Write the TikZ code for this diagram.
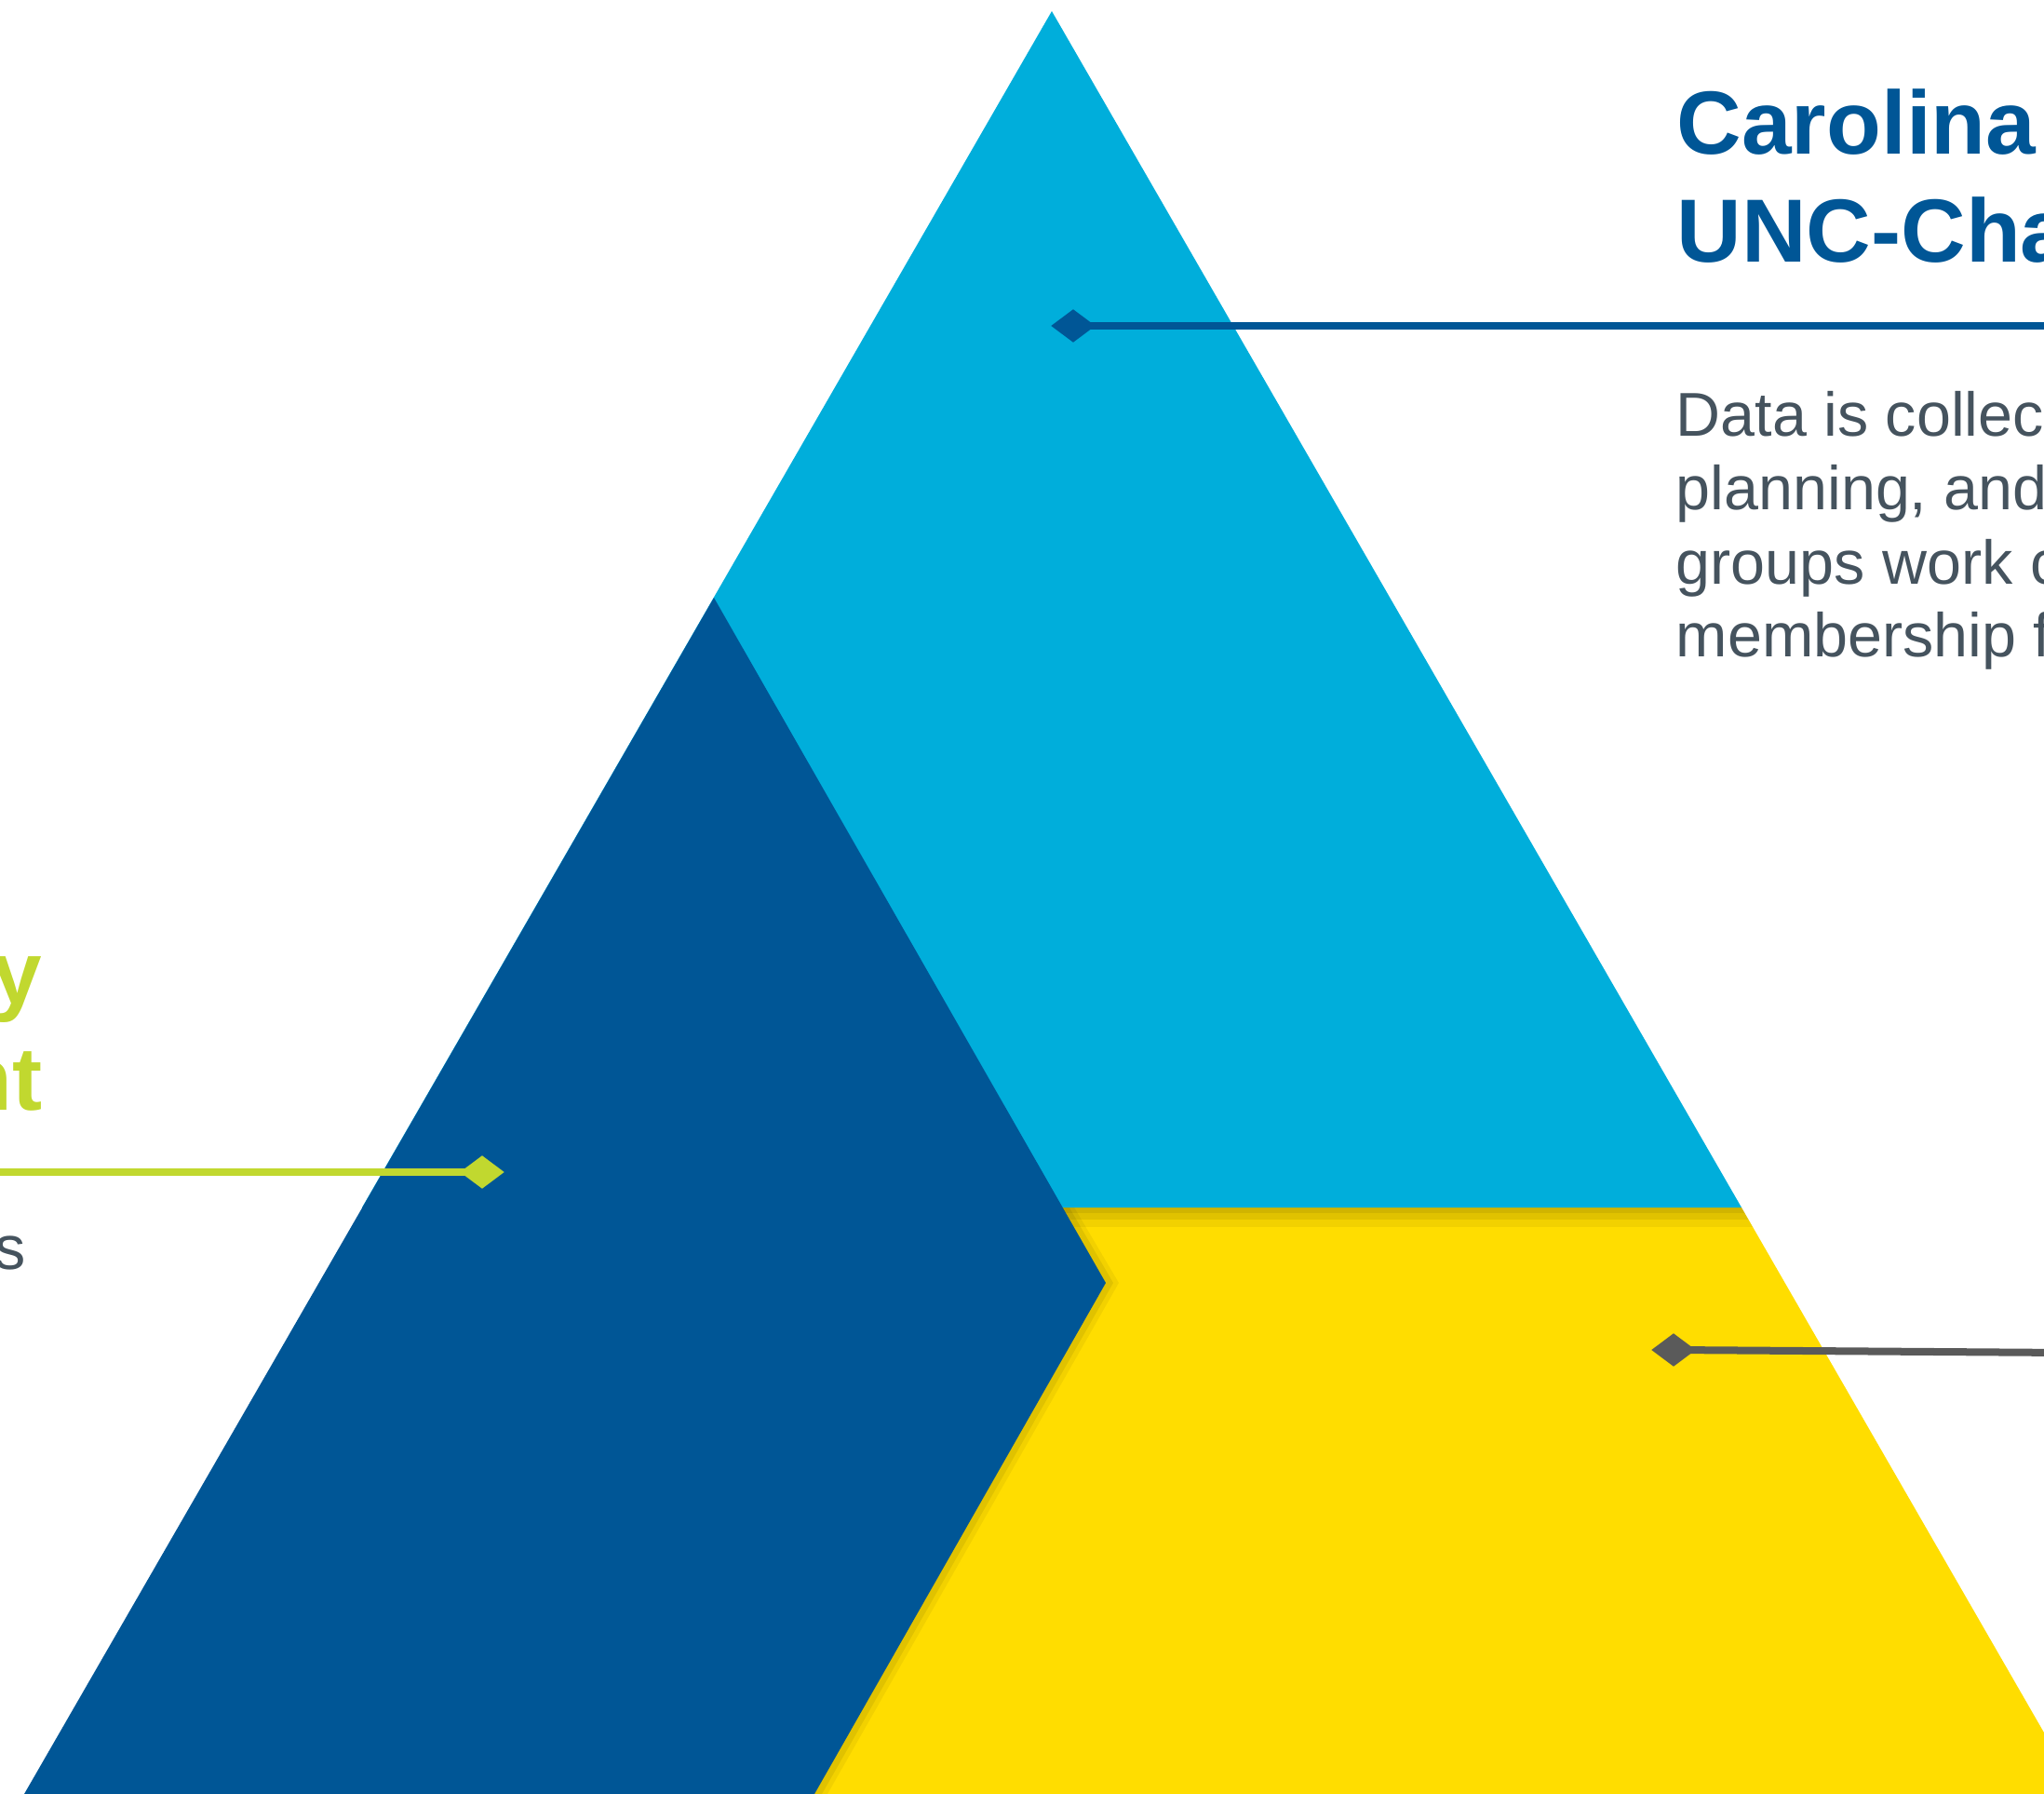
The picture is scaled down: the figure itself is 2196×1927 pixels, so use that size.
\documentclass[tikz,border=0pt]{standalone}
\usepackage{fontspec}
\setmainfont{Liberation Sans}
\usetikzlibrary{shapes.geometric}
\definecolor{dblue}{RGB}{0,86,150}
\definecolor{lblue}{RGB}{0,174,219}
\definecolor{yel}{RGB}{255,221,0}
\definecolor{grn}{RGB}{193,216,47}
\definecolor{gtext}{RGB}{69,83,94}
\definecolor{gline}{RGB}{90,90,90}
\tikzset{
  diam/.style={diamond, inner sep=0pt, minimum width=0.48cm, minimum height=0.36cm, draw=none},
  conn/.style={line width=0.08cm},
  ttl/.style={inner sep=0pt, font=\fontsize{27.4pt}{32.7pt}\selectfont\bfseries},
  bdy/.style={inner sep=0pt, font=\fontsize{18.9pt}{22.5pt}\selectfont, text=gtext},
}
\begin{document}
\begin{tikzpicture}[x=0.01cm, y=-0.01cm]
\useasboundingbox (0,0) rectangle (2196,1927);
\clip (0,0) rectangle (2196,1927);
% yellow band
\fill[yel] (1000,1297) -- (1871,1297) -- (2234,1927) -- (700,1927) -- cycle;
% shadows on yellow
\begin{scope}
\clip (1000,1297) -- (1871,1297) -- (2234,1927) -- (700,1927) -- cycle;
\fill[black, opacity=0.05] (380,1297) rectangle (2300,1318);
\fill[black, opacity=0.07] (380,1297) rectangle (2300,1310);
\fill[black, opacity=0.07] (380,1297) rectangle (2300,1303);
\fill[black, opacity=0.05] (767,642) -- (1202,1378) -- (889,1927) -- (26,1927) -- cycle;
\fill[black, opacity=0.07] (767,642) -- (1196,1378) -- (883,1927) -- (26,1927) -- cycle;
\end{scope}
% light blue top triangle
\fill[lblue] (1130,12) -- (389,1297) -- (1871,1297) -- cycle;
% dark blue chevron
\fill[dblue] (767,642) -- (1188,1378) -- (875,1927) -- (26,1927) -- cycle;
% connectors
\node[diam, fill=dblue] (d1) at (1153,350) {};
\coordinate (e1) at (2220,350);
\draw[conn, dblue] (d1.center) -- (e1);
\node[diam, fill=grn] (d2) at (518,1259) {};
\coordinate (e2) at (-20,1259);
\draw[conn, grn] (e2) -- (d2.center);
\node[diam, fill=gline] (d3) at (1798,1450) {};
\coordinate (e3) at (2220,1453);
\draw[conn, gline] (d3.center) -- (e3);
% texts right
\node[ttl, text=dblue, anchor=base west] (t1) at (1801,166) {Carolina};
\node[ttl, text=dblue, anchor=base west] (t2) at (1801,281) {UNC-Cha};
\node[bdy, anchor=base west] (b1) at (1800,468) {Data is collec};
\node[bdy, anchor=base west] (b2) at (1800,547) {planning, and};
\node[bdy, anchor=base west] (b3) at (1800,627) {groups work c};
\node[bdy, anchor=base west] (b4) at (1800,705) {membership f};
% texts left
\node[ttl, text=grn, anchor=base east] (l1) at (46,1078) {y};
\node[ttl, text=grn, anchor=base east] (l2) at (46,1192) {nt};
\node[bdy, anchor=base east] (l3) at (28,1363) {s};
\end{tikzpicture}
\end{document}
